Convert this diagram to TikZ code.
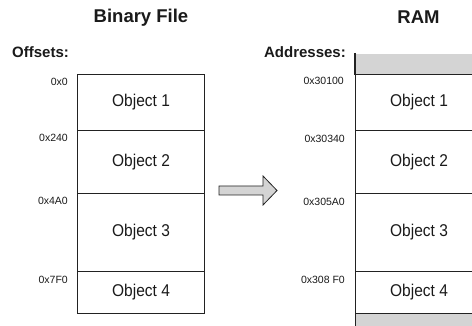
\documentclass[tikz,border=0pt]{standalone}
\usepackage{fontspec}
\setmainfont{Liberation Sans}
\definecolor{edge}{HTML}{222222}
\definecolor{cellgray}{HTML}{D4D4D4}
\definecolor{txt}{HTML}{1A1A1A}
\tikzset{
  cell/.style={draw=edge, line width=1.1pt, anchor=north west, inner sep=0pt, minimum width=127pt, text=txt,
    font=\fontsize{15.5}{18}\selectfont},
  graycell/.style={draw=edge, line width=1.1pt, fill=cellgray, anchor=north west, inner sep=0pt, minimum width=127pt},
  addr/.style={anchor=east, inner sep=0pt, text=txt, font=\fontsize{10.5}{12}\selectfont},
  heading/.style={inner sep=0pt, text=txt, font=\fontsize{18.5}{22}\selectfont\bfseries},
  sublabel/.style={inner sep=0pt, text=txt, font=\fontsize{15}{18}\selectfont\bfseries},
  bigarrow/.style={draw=edge, line width=0.8pt, fill=cellgray, line join=miter}
}
\newcommand{\objtxt}[1]{\scalebox{1}[1.1]{#1}}
\begin{document}
\begin{tikzpicture}[x=1pt, y=-1pt]
\useasboundingbox (0,0) rectangle (472,326);
\clip (0,0) rectangle (472,326);
\fill[white] (0,0) rectangle (472,326);
% titles
\node[heading] (tbin) at (141,17.5) {Binary File};
\node[heading] (tram) at (418.5,17.5) {RAM};
\node[sublabel, anchor=west] (toff) at (12,52) {Offsets:};
\node[sublabel, anchor=east] (tadd) at (346,52) {Addresses:};
% left column
\node[cell, minimum height=56pt] (b1) at (77,74) {\objtxt{Object 1}};
\node[cell, minimum height=63pt] (b2) at (77,130) {\objtxt{Object 2}};
\node[cell, minimum height=78pt] (b3) at (77,193) {\objtxt{Object 3}};
\node[cell, minimum height=42pt] (b4) at (77,271) {\objtxt{Object 4}};
\node[addr] (o1) at (68,82) {0x0};
\node[addr] (o2) at (68,138) {0x240};
\node[addr] (o3) at (68,201) {0x4A0};
\node[addr] (o4) at (68,280) {0x7F0};
% right column
\node[graycell, minimum height=21pt, draw=none] (rtop) at (355,53) {};
\draw[edge, line width=1.1pt] (rtop.north west) -- (rtop.south west);
\node[cell, minimum height=56pt] (r1) at (355,74) {\objtxt{Object 1}};
\node[cell, minimum height=63pt] (r2) at (355,130) {\objtxt{Object 2}};
\node[cell, minimum height=78pt] (r3) at (355,193) {\objtxt{Object 3}};
\node[cell, minimum height=42pt] (r4) at (355,271) {\objtxt{Object 4}};
\node[graycell, minimum height=20pt] (rbot) at (355,313) {};
\node[addr] (a1) at (344,81) {0x30100};
\node[addr] (a2) at (345,139) {0x30340};
\node[addr] (a3) at (345,202) {0x305A0};
\node[addr] (a4) at (345,280) {0x308 F0};
% arrow
\draw[bigarrow] (219,186) -- (263,186) -- (263,176) -- (277,190.5) -- (263,205) -- (263,195) -- (219,195) -- cycle;
\end{tikzpicture}
\end{document}
